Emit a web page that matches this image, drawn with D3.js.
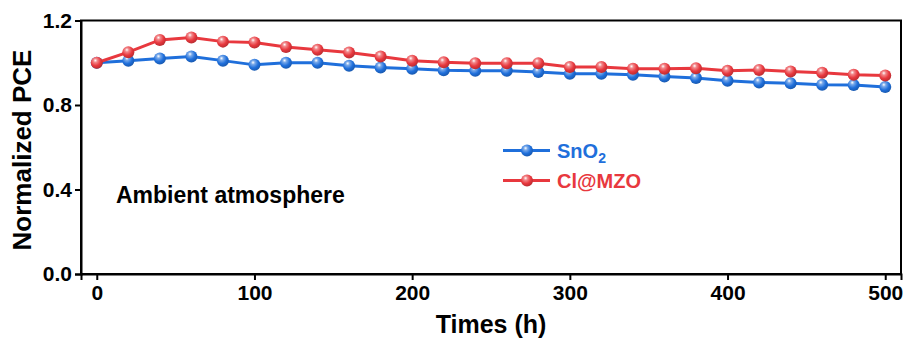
<!DOCTYPE html>
<html><head><meta charset="utf-8">
<script src="https://cdn.jsdelivr.net/npm/d3@7"></script>
<style>
body{margin:0;background:#fff;}
svg{display:block;font-family:Arial,"Liberation Sans",sans-serif;font-weight:bold;}
</style></head>
<body>
<svg id="chart" width="907" height="340"></svg>
<script>
const times = [0,20,40,60,80,100,120,140,160,180,200,220,240,260,280,300,320,340,360,380,400,420,440,460,480,500];
const sno2 = [1.00,1.01,1.02,1.03,1.01,0.99,1.00,1.00,0.986,0.978,0.972,0.965,0.962,0.962,0.956,0.948,0.948,0.943,0.935,0.928,0.915,0.907,0.903,0.896,0.895,0.885];
const clmzo = [1.00,1.05,1.108,1.12,1.10,1.096,1.075,1.062,1.049,1.03,1.01,1.002,0.998,0.998,0.998,0.98,0.98,0.972,0.972,0.974,0.962,0.966,0.959,0.953,0.943,0.94];
const yTicks = [0.0,0.4,0.8,1.2];
const xTicks = [0,100,200,300,400,500];
const seriesNames = ["SnO2","Cl@MZO"];
const colors = ["#1f6fdb","#e8383e"];

const svg = d3.select("#chart");
const L=81,R=901,T=20.5,B=274;
const x = d3.scaleLinear().domain([-10,510]).range([L,R]);
const y = d3.scaleLinear().domain([0,1.2]).range([B,T]);

// gradients
const defs = svg.append("defs");
colors.forEach((c,i)=>{
  const g = defs.append("radialGradient").attr("id","g"+i).attr("cx","40%").attr("cy","35%").attr("r","65%").attr("fx","38%").attr("fy","30%");
  g.append("stop").attr("offset","0%").attr("stop-color","#ffffff");
  g.append("stop").attr("offset","25%").attr("stop-color",d3.interpolateRgb("#ffffff",c)(0.6));
  g.append("stop").attr("offset","65%").attr("stop-color",c);
  g.append("stop").attr("offset","100%").attr("stop-color",d3.color(c).darker(0.6));
});

// frame
svg.append("rect").attr("x",L).attr("y",T).attr("width",R-L).attr("height",B-T)
  .attr("fill","none").attr("stroke","#000").attr("stroke-width",2);

// axes
const yAxis = svg.append("g").attr("transform",`translate(${L},0)`)
  .call(d3.axisLeft(y).tickValues(yTicks).tickFormat(d3.format(".1f")).tickSize(6).tickPadding(3));
const xAxis = svg.append("g").attr("transform",`translate(0,${B})`)
  .call(d3.axisBottom(x).tickValues(xTicks).tickSize(6).tickPadding(5));
[yAxis,xAxis].forEach(a=>{
  a.select(".domain").attr("stroke","#000").attr("stroke-width",2);
  a.selectAll(".tick line").attr("stroke","#000").attr("stroke-width",2);
  a.selectAll(".tick text").attr("fill","#000").style("font-size","21px").style("font-weight","bold").style("font-family","Arial,'Liberation Sans',sans-serif");
});

// titles
svg.append("text").attr("x",491).attr("y",333).attr("text-anchor","middle")
  .style("font-size","25px").attr("fill","#000").text("Times (h)");
svg.append("text").attr("transform","translate(31,150) rotate(-90)").attr("text-anchor","middle")
  .style("font-size","26px").attr("fill","#000").text("Normalized PCE");
svg.append("text").attr("x",116).attr("y",203).style("font-size","23px").attr("fill","#000").text("Ambient atmosphere");

// series
const data = [sno2, clmzo];
const line = d3.line().x((d,i)=>x(times[i])).y(d=>y(d));
data.forEach((s,k)=>{
  const g = svg.append("g");
  g.append("path").datum(s).attr("d",line).attr("fill","none").attr("stroke",colors[k]).attr("stroke-width",3);
  g.selectAll("circle").data(s).join("circle")
    .attr("cx",(d,i)=>x(times[i])).attr("cy",d=>y(d)).attr("r",6)
    .attr("fill",`url(#g${k})`);
});

// legend
const legY=[150.5,180.5];
data.forEach((s,k)=>{
  const g = svg.append("g");
  g.append("line").attr("x1",503).attr("x2",550).attr("y1",legY[k]).attr("y2",legY[k])
    .attr("stroke",colors[k]).attr("stroke-width",3);
  g.append("circle").attr("cx",527).attr("cy",legY[k]).attr("r",6).attr("fill",`url(#g${k})`);
  const t = g.append("text").attr("x",557).attr("y",legY[k]+7).style("font-size","20px").attr("fill",colors[k]);
  if(k===0){
    t.append("tspan").text("SnO");
    t.append("tspan").attr("dy",5).style("font-size","14px").text("2");
  } else {
    t.text(seriesNames[1]);
  }
});
</script>
</body></html>
